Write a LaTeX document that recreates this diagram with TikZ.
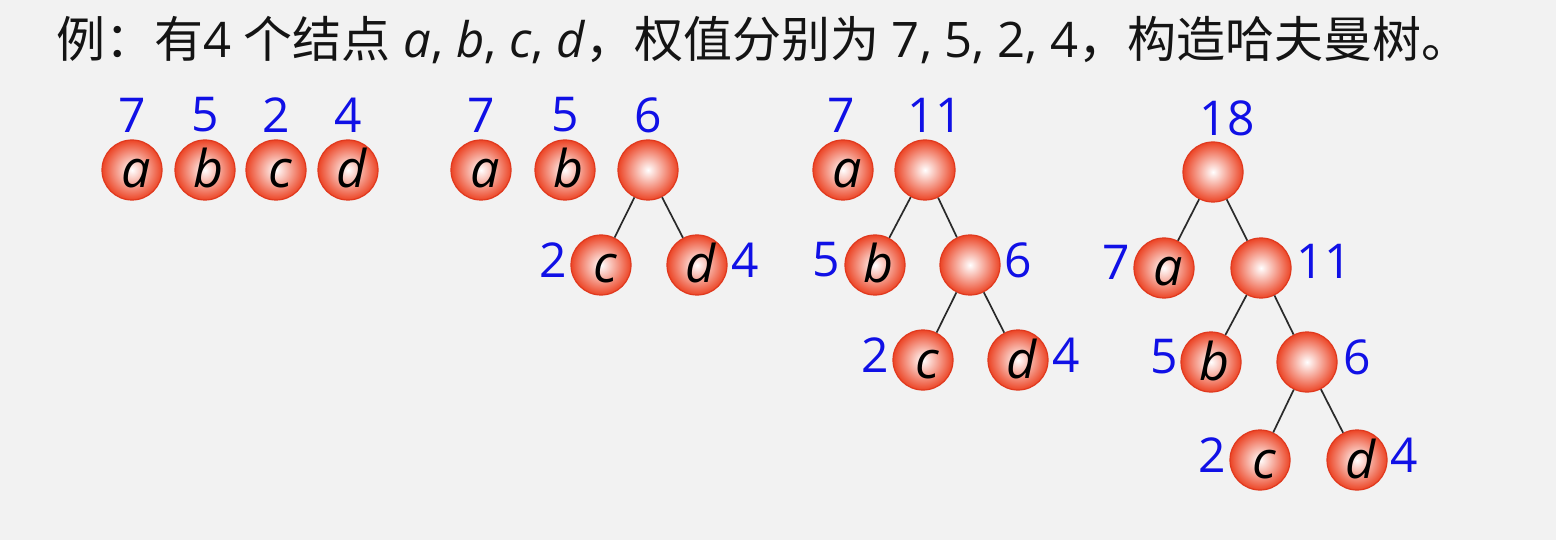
\documentclass[tikz,border=0pt]{standalone}
\usepackage{fontspec}
\setmainfont{Open Sans}
\newfontfamily\cjk{Noto Sans CJK SC}
\definecolor{bg}{HTML}{F2F2F2}
\definecolor{ballred}{HTML}{EC4526}
\definecolor{ballrim}{HTML}{E0391E}
\definecolor{numblue}{HTML}{1010E6}
\definecolor{edgegray}{HTML}{2A2A2A}
\tikzset{
  ball/.style={circle, minimum size=60pt, inner sep=0pt, draw=ballrim, line width=1.2pt,
    inner color=white, outer color=ballred,
    font=\fontsize{52}{58}\selectfont\itshape, text height=36pt, text depth=0pt,
    execute at begin node=\kern8pt},
  lab/.style={text=numblue, inner sep=0pt, font=\fontsize{48}{54}\selectfont},
  edge/.style={draw=edgegray, line width=1.7pt}
}
\begin{document}
\begin{tikzpicture}[x=1pt,y=-1pt]
\useasboundingbox (0,0) rectangle (1556,540);
\fill[bg] (0,0) rectangle (1556,540);
\node[anchor=west, inner sep=0pt, text=black!92, font=\fontsize{49}{54}\selectfont] (title) at (56,40)
 {{\cjk 例：有}4 {\cjk 个结点} \textit{a}, \textit{b}, \textit{c}, \textit{d}{\cjk ，权值分别为} 7, 5, 2, 4{\cjk ，构造哈夫曼树。}};
% Tree 1
\node[ball] (a1) at (132,170) {a};
\node[ball] (b1) at (205,170) {b};
\node[ball] (c1) at (276,170) {c};
\node[ball] (d1) at (348,170) {d};
\node[lab] (la1) at (132,115) {7};
\node[lab] (lb1) at (205,115) {5};
\node[lab] (lc1) at (276,115) {2};
\node[lab] (ld1) at (348,115) {4};
% Tree 2
\node[ball] (a2) at (481,170) {a};
\node[ball] (b2) at (565,170) {b};
\node[ball] (r2) at (648,170) {};
\node[ball] (c2) at (601,265) {c};
\node[ball] (d2) at (697,265) {d};
\draw[edge] (r2) -- (c2);
\draw[edge] (r2) -- (d2);
\node[lab] (la2) at (481,115) {7};
\node[lab] (lb2) at (565,115) {5};
\node[lab] (lr2) at (648,115) {6};
\node[lab] (lc2) at (553,260) {2};
\node[lab] (ld2) at (745,260) {4};
% Tree 3
\node[ball] (a3) at (843,170) {a};
\node[ball] (r3) at (925,170) {};
\node[ball] (b3) at (875,265) {b};
\node[ball] (s3) at (970,265) {};
\node[ball] (c3) at (923,360) {c};
\node[ball] (d3) at (1018,360) {d};
\draw[edge] (r3) -- (b3);
\draw[edge] (r3) -- (s3);
\draw[edge] (s3) -- (c3);
\draw[edge] (s3) -- (d3);
\node[lab] (la3) at (841,115) {7};
\node[lab] (lr3) at (935,115) {11};
\node[lab] (lb3) at (826,260) {5};
\node[lab] (ls3) at (1018,260) {6};
\node[lab] (lc3) at (875,355) {2};
\node[lab] (ld3) at (1066,355) {4};
% Tree 4
\node[ball] (r4) at (1213,172) {};
\node[ball] (a4) at (1164,268) {a};
\node[ball] (e4) at (1261,268) {};
\node[ball] (b4) at (1211,362) {b};
\node[ball] (s4) at (1307,362) {};
\node[ball] (c4) at (1260,460) {c};
\node[ball] (d4) at (1357,460) {d};
\draw[edge] (r4) -- (a4);
\draw[edge] (r4) -- (e4);
\draw[edge] (e4) -- (b4);
\draw[edge] (e4) -- (s4);
\draw[edge] (s4) -- (c4);
\draw[edge] (s4) -- (d4);
\node[lab] (lr4) at (1227,118) {18};
\node[lab] (la4) at (1116,262) {7};
\node[lab] (le4) at (1324,261) {11};
\node[lab] (lb4) at (1164,357) {5};
\node[lab] (ls4) at (1357,357) {6};
\node[lab] (lc4) at (1212,455) {2};
\node[lab] (ld4) at (1404,455) {4};
\end{tikzpicture}
\end{document}
